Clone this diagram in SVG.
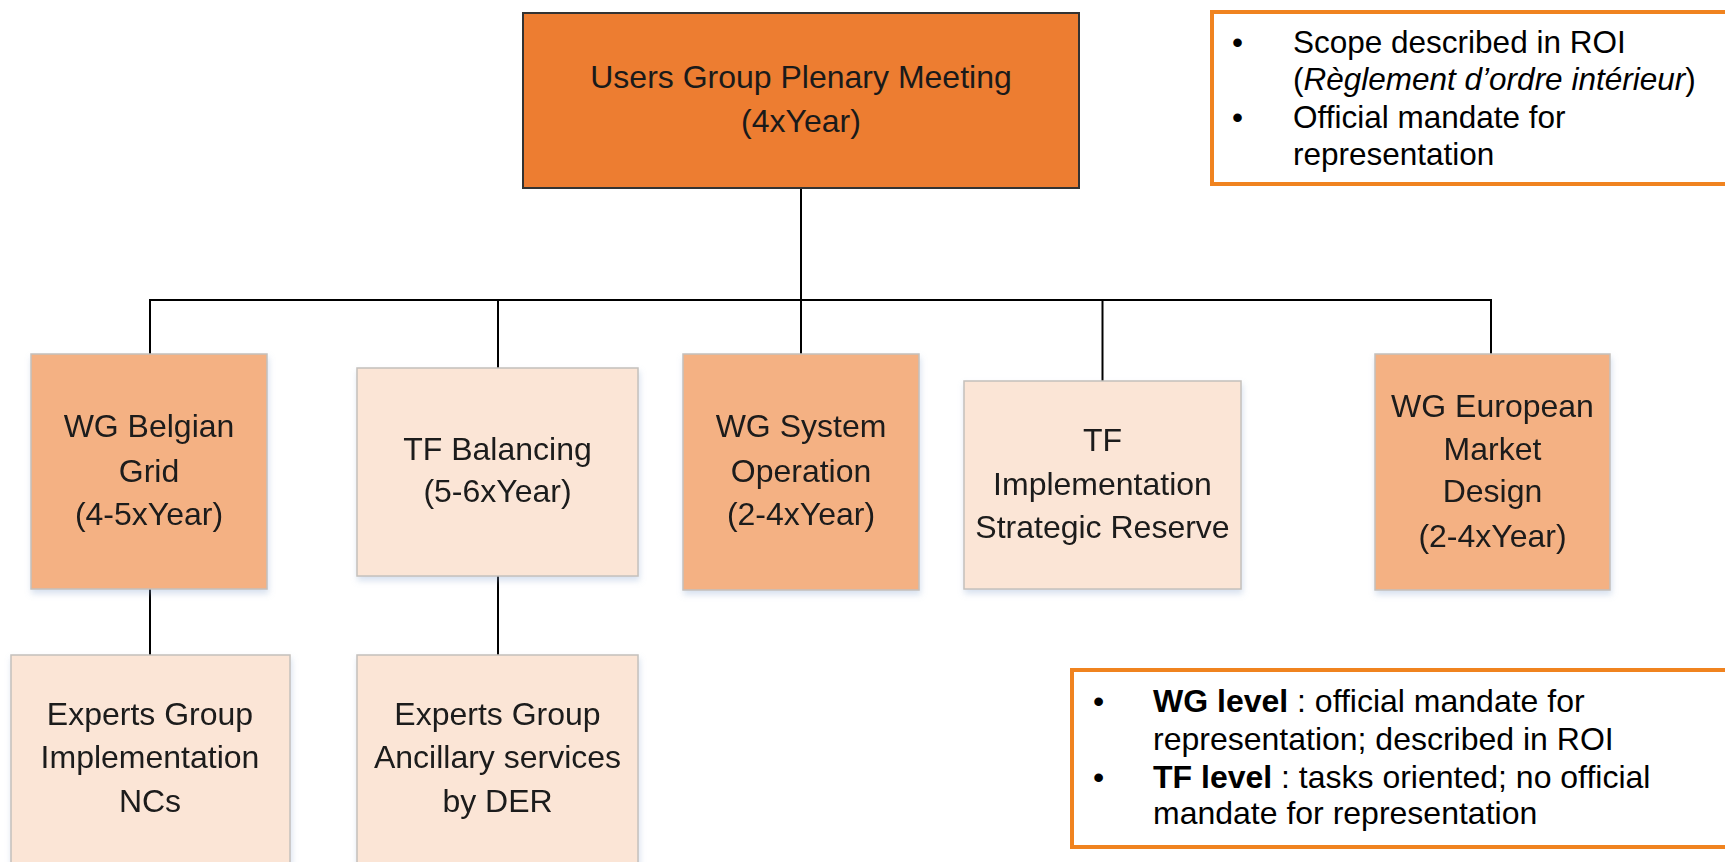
<svg xmlns="http://www.w3.org/2000/svg" width="1725" height="862" viewBox="0 0 1725 862">
<defs>
<filter id="sh" x="-10%" y="-10%" width="120%" height="125%">
<feDropShadow dx="1" dy="4" stdDeviation="3" flood-color="#8fa8d0" flood-opacity="0.35"/>
</filter>
<style>
.t{font-family:"Liberation Sans",Arial,sans-serif;font-size:32px;fill:#1a1a1a;text-anchor:middle}
.top{fill:#ED7D31;stroke:#333;stroke-width:2}
.wg{fill:#F4B183;stroke:#c4c0bc;stroke-width:1.5}
.tf{fill:#FBE5D6;stroke:#c4c0bc;stroke-width:1.5}
.note{fill:#fff;stroke:#F0831F;stroke-width:4}
.n{font-family:"Liberation Sans",Arial,sans-serif;font-size:32px;fill:#000}
.nt{font-size:31.5px}
.c{stroke:#000;stroke-width:2;fill:none}
</style>
</defs>
<rect width="1725" height="862" fill="#fff"/>
<g id="connectors">
<line class="c" x1="801" y1="188" x2="801" y2="300" stroke-width="3"/>
<line class="c" x1="149" y1="300" x2="1492" y2="300" stroke-width="2.5"/>
<line class="c" x1="150" y1="300" x2="150" y2="354"/>
<line class="c" x1="498" y1="300" x2="498" y2="368"/>
<line class="c" x1="801" y1="300" x2="801" y2="354"/>
<line class="c" x1="1102.5" y1="300" x2="1102.5" y2="381"/>
<line class="c" x1="1491" y1="300" x2="1491" y2="354"/>
<line class="c" x1="150" y1="589" x2="150" y2="655"/>
<line class="c" x1="498" y1="576" x2="498" y2="655"/>
</g>
<g id="plenary">
<rect class="top" x="523" y="13" width="556" height="175"/>
<text class="t" x="801" y="88" font-size="32.5">Users Group Plenary Meeting</text>
<text class="t" x="801" y="132" font-size="32.5">(4xYear)</text>
</g>
<g id="wg-belgian-grid" filter="url(#sh)">
<rect class="wg" x="31" y="354" width="236" height="235"/>
<text class="t" x="149" y="437">WG Belgian</text>
<text class="t" x="149" y="482">Grid</text>
<text class="t" x="149" y="525">(4-5xYear)</text>
</g>
<g id="tf-balancing" filter="url(#sh)">
<rect class="tf" x="357" y="368" width="281" height="208"/>
<text class="t" x="497.5" y="460">TF Balancing</text>
<text class="t" x="497.5" y="502">(5-6xYear)</text>
</g>
<g id="wg-system-operation" filter="url(#sh)">
<rect class="wg" x="683" y="354" width="236" height="236"/>
<text class="t" x="801" y="437">WG System</text>
<text class="t" x="801" y="482">Operation</text>
<text class="t" x="801" y="525">(2-4xYear)</text>
</g>
<g id="tf-implementation" filter="url(#sh)">
<rect class="tf" x="964" y="381" width="277" height="208"/>
<text class="t" x="1102.5" y="451">TF</text>
<text class="t" x="1102.5" y="495">Implementation</text>
<text class="t" x="1102.5" y="538">Strategic Reserve</text>
</g>
<g id="wg-european-market-design" filter="url(#sh)">
<rect class="wg" x="1375" y="354" width="235" height="236"/>
<text class="t" x="1492.5" y="417">WG European</text>
<text class="t" x="1492.5" y="460">Market</text>
<text class="t" x="1492.5" y="502">Design</text>
<text class="t" x="1492.5" y="547">(2-4xYear)</text>
</g>
<g id="experts-implementation-ncs" filter="url(#sh)">
<rect class="tf" x="11" y="655" width="279" height="230"/>
<text class="t" x="150" y="725">Experts Group</text>
<text class="t" x="150" y="768">Implementation</text>
<text class="t" x="150" y="812">NCs</text>
</g>
<g id="experts-ancillary-services" filter="url(#sh)">
<rect class="tf" x="357" y="655" width="281" height="230"/>
<text class="t" x="497.5" y="725">Experts Group</text>
<text class="t" x="497.5" y="768">Ancillary services</text>
<text class="t" x="497.5" y="812">by DER</text>
</g>
<g id="note-top">
<rect class="note" x="1212" y="12" width="540" height="172"/>
<text class="n nt" x="1232" y="53">•</text>
<text class="n nt" x="1293" y="53">Scope described in ROI</text>
<text class="n nt" x="1293" y="90">(<tspan font-style="italic">Règlement d’ordre intérieur</tspan>)</text>
<text class="n nt" x="1232" y="128">•</text>
<text class="n nt" x="1293" y="128">Official mandate for</text>
<text class="n nt" x="1293" y="165">representation</text>
</g>
<g id="note-bottom">
<rect class="note" x="1072" y="670" width="680" height="177"/>
<text class="n" x="1093" y="712">•</text>
<text class="n" x="1153" y="712"><tspan font-weight="bold">WG level</tspan> : official mandate for</text>
<text class="n" x="1153" y="750">representation; described in ROI</text>
<text class="n" x="1093" y="788">•</text>
<text class="n" x="1153" y="788"><tspan font-weight="bold">TF level</tspan> : tasks oriented; no official</text>
<text class="n" x="1153" y="824">mandate for representation</text>
</g>
</svg>
